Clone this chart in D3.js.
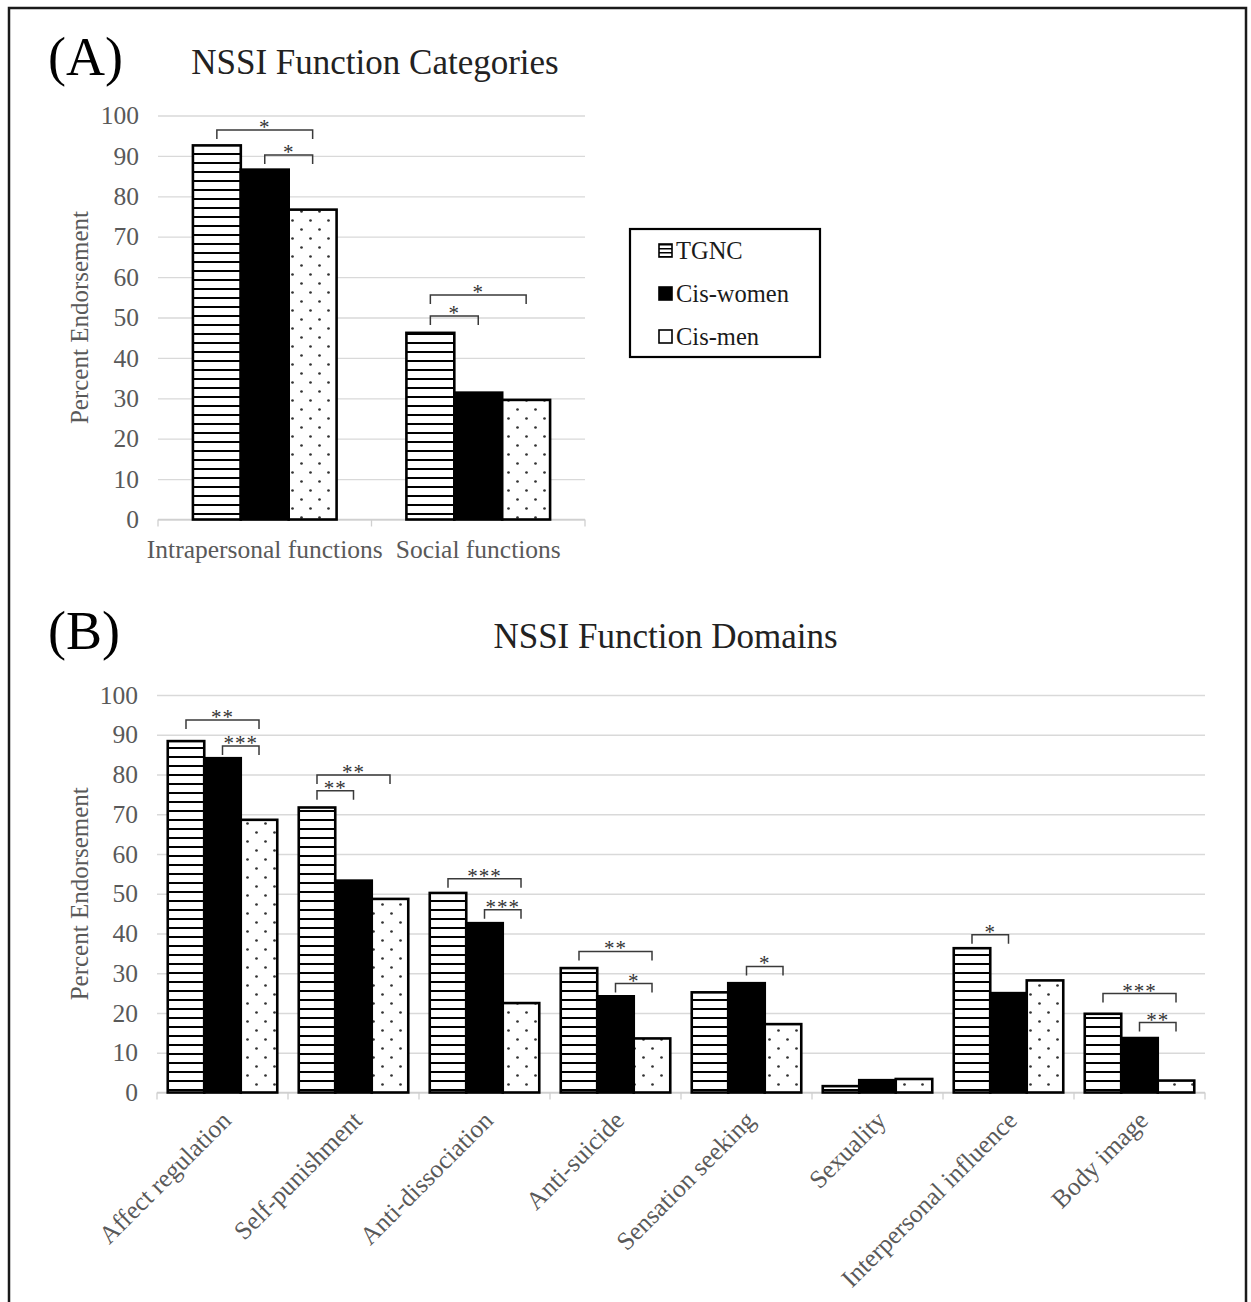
<!DOCTYPE html>
<html><head><meta charset="utf-8">
<script src="https://cdn.jsdelivr.net/npm/d3@7"></script>
<style>
body{margin:0;background:#fff}
svg{display:block}
text{font-family:"Liberation Serif","Times New Roman",serif}
</style>
</head><body>
<svg id="c" width="1251" height="1302"></svg>
<script>
const seriesNames = ["TGNC", "Cis-women", "Cis-men"];
const categoriesA = ["Intrapersonal functions", "Social functions"];
const tgncA = [92.6, 46.2];
const cisWomenA = [86.6, 31.4];
const cisMenA = [76.7, 29.6];
const categoriesB = ["Affect regulation", "Self-punishment", "Anti-dissociation", "Anti-suicide",
  "Sensation seeking", "Sexuality", "Interpersonal influence", "Body image"];
const tgncB = [88.4, 71.7, 50.2, 31.3, 25.2, 1.6, 36.3, 19.8];
const cisWomenB = [84.1, 53.3, 42.6, 24.2, 27.5, 3.1, 25.0, 13.7];
const cisMenB = [68.6, 48.7, 22.5, 13.6, 17.2, 3.4, 28.2, 3.0];
const yTickValues = [0, 10, 20, 30, 40, 50, 60, 70, 80, 90, 100];
// significance brackets: [category index, from series, to series, level (%), label]
const sigA = [[0, 0, 2, 96.4, "*"], [0, 1, 2, 90.2, "*"], [1, 0, 2, 55.6, "*"], [1, 0, 1, 50.4, "*"]];
const sigB = [[0, 0, 2, 93.7, "**"], [0, 1, 2, 87.2, "***"], [1, 0, 2, 79.9, "**"], [1, 0, 1, 75.9, "**"],
  [2, 0, 2, 53.8, "***"], [2, 1, 2, 46.0, "***"], [3, 0, 2, 35.5, "**"], [3, 1, 2, 27.4, "*"],
  [4, 1, 2, 31.7, "*"], [6, 0, 1, 39.7, "*"], [7, 0, 2, 24.9, "***"], [7, 1, 2, 17.6, "**"]];

const svg = d3.select("#c");
const defs = svg.append("defs");

// patterns
const ph = defs.append("pattern").attr("id", "hlines").attr("patternUnits", "userSpaceOnUse")
  .attr("width", 10).attr("height", 9);
ph.append("rect").attr("width", 10).attr("height", 9).attr("fill", "#fff");
ph.append("rect").attr("y", 0).attr("width", 10).attr("height", 2).attr("fill", "#000");

const phs = defs.append("pattern").attr("id", "hlinesSmall").attr("patternUnits", "userSpaceOnUse")
  .attr("width", 4).attr("height", 4);
phs.append("rect").attr("width", 4).attr("height", 4).attr("fill", "#fff");
phs.append("rect").attr("y", 0).attr("width", 4).attr("height", 1.5).attr("fill", "#000");

const pd = defs.append("pattern").attr("id", "dots").attr("patternUnits", "userSpaceOnUse")
  .attr("width", 18).attr("height", 18);
pd.append("rect").attr("width", 18).attr("height", 18).attr("fill", "#fff");
pd.append("circle").attr("cx", 4.5).attr("cy", 4.5).attr("r", 1.35).attr("fill", "#333");
pd.append("circle").attr("cx", 13.5).attr("cy", 13.5).attr("r", 1.35).attr("fill", "#333");

const fills = ["url(#hlines)", "#000", "url(#dots)"];
const legendFills = ["url(#hlinesSmall)", "#000", "#fff"];

// outer frame
svg.append("rect").attr("x", 9).attr("y", 8).attr("width", 1237).attr("height", 1320)
  .attr("fill", "none").attr("stroke", "#1a1a1a").attr("stroke-width", 2.5);

function drawPanel(cfg) {
  const g = svg.append("g");
  const y = d3.scaleLinear().domain([0, 100]).range([cfg.y0, cfg.y100]);
  const x = d3.scaleBand().domain(cfg.cats).range([cfg.left, cfg.right])
    .paddingInner(cfg.pad).paddingOuter(cfg.pad / 2);
  const xs = d3.scaleBand().domain(seriesNames).range([0, x.bandwidth()]);

  // grid + y labels
  const yAxis = d3.axisLeft(y).tickValues(yTickValues).tickSize(-(cfg.right - cfg.left)).tickPadding(19);
  const ga = g.append("g").attr("transform", `translate(${cfg.left},0)`).call(yAxis);
  ga.select(".domain").remove();
  ga.selectAll(".tick line").attr("stroke", "#d9d9d9").attr("stroke-width", 1.3);
  ga.selectAll(".tick text").attr("fill", "#595959").attr("font-size", 25.5)
    .attr("font-family", "Liberation Serif, Times New Roman, serif");

  // x axis line + boundary ticks
  g.append("line").attr("x1", cfg.left).attr("x2", cfg.right).attr("y1", y(0)).attr("y2", y(0))
    .attr("stroke", "#d0d0d0").attr("stroke-width", 1.3);
  const bounds = d3.range(cfg.cats.length + 1).map(i => cfg.left + i * x.step());
  g.selectAll(".xt").data(bounds).join("line")
    .attr("x1", d => d).attr("x2", d => d).attr("y1", y(0)).attr("y2", y(0) + 7)
    .attr("stroke", "#d0d0d0").attr("stroke-width", 1.3);

  // bars
  const series = cfg.values;
  series.forEach((vals, si) => {
    g.selectAll(".b" + si).data(vals).join("rect")
      .attr("x", (d, i) => x(cfg.cats[i]) + xs(seriesNames[si]))
      .attr("y", d => y(d))
      .attr("width", xs.bandwidth())
      .attr("height", d => y(0) - y(d))
      .attr("fill", fills[si])
      .attr("stroke", "#000").attr("stroke-width", 2.6);
  });

  // significance brackets
  cfg.sig.forEach(s => {
    const [ci, a, b, lvl, lab] = s;
    const xa = x(cfg.cats[ci]) + xs(seriesNames[a]) + xs.bandwidth() / 2;
    const xb = x(cfg.cats[ci]) + xs(seriesNames[b]) + xs.bandwidth() / 2;
    const yl = y(lvl);
    g.append("path").attr("d", `M${xa},${yl + 9}V${yl}H${xb}V${yl + 9}`)
      .attr("fill", "none").attr("stroke", "#3a3a3a").attr("stroke-width", 1.5);
    g.append("text").attr("x", (xa + xb) / 2).attr("y", yl + 4).attr("text-anchor", "middle")
      .attr("font-size", 21).attr("fill", "#333").attr("letter-spacing", 1).text(lab);
  });

  // category labels
  if (!cfg.rotate) {
    g.selectAll(".cl").data(cfg.cats).join("text")
      .attr("x", d => x(d) + x.bandwidth() / 2).attr("y", cfg.labelY)
      .attr("text-anchor", "middle").attr("font-size", 25.5).attr("fill", "#595959").text(d => d);
  } else {
    g.selectAll(".cl").data(cfg.cats).join("text")
      .attr("transform", d => `translate(${x(d) + x.bandwidth() / 2 + 10},${cfg.labelY}) rotate(-45)`)
      .attr("text-anchor", "end").attr("font-size", 25.5).attr("fill", "#595959").text(d => d);
  }

  // y title
  g.append("text").attr("transform", `translate(88,${(cfg.y0 + cfg.y100) / 2}) rotate(-90)`)
    .attr("text-anchor", "middle").attr("font-size", 25).attr("fill", "#595959").text("Percent Endorsement");

  // panel letter + title
  g.append("text").attr("x", 48).attr("y", cfg.letterY).attr("font-size", 54).attr("fill", "#000").text(cfg.letter);
  g.append("text").attr("x", cfg.titleX).attr("y", cfg.titleY).attr("text-anchor", "middle")
    .attr("font-size", 35).attr("fill", "#222").text(cfg.title);
}

drawPanel({
  cats: categoriesA, values: [tgncA, cisWomenA, cisMenA], sig: sigA,
  left: 158, right: 585, y0: 519.5, y100: 115.5, pad: 0.327,
  rotate: false, labelY: 558, letter: "(A)", letterY: 75, title: "NSSI Function Categories",
  titleX: 375, titleY: 74
});
drawPanel({
  cats: categoriesB, values: [tgncB, cisWomenB, cisMenB], sig: sigB,
  left: 157, right: 1205, y0: 1092.5, y100: 695, pad: 0.164,
  rotate: true, labelY: 1122, letter: "(B)", letterY: 649, title: "NSSI Function Domains",
  titleX: 665.5, titleY: 648
});

// legend
const lg = svg.append("g");
lg.append("rect").attr("x", 630).attr("y", 229).attr("width", 190).attr("height", 128)
  .attr("fill", "#fff").attr("stroke", "#000").attr("stroke-width", 2.2);
const legendY = d3.scalePoint().domain(seriesNames).range([251, 337]);
seriesNames.forEach((s, i) => {
  lg.append("rect").attr("x", 659).attr("y", legendY(s) - 7).attr("width", 13).attr("height", 13)
    .attr("fill", legendFills[i]).attr("stroke", "#000").attr("stroke-width", 1.6);
  lg.append("text").attr("x", 676).attr("y", legendY(s) + 8).attr("font-size", 24.5)
    .attr("fill", "#1a1a1a").text(s);
});
</script>
</body></html>
